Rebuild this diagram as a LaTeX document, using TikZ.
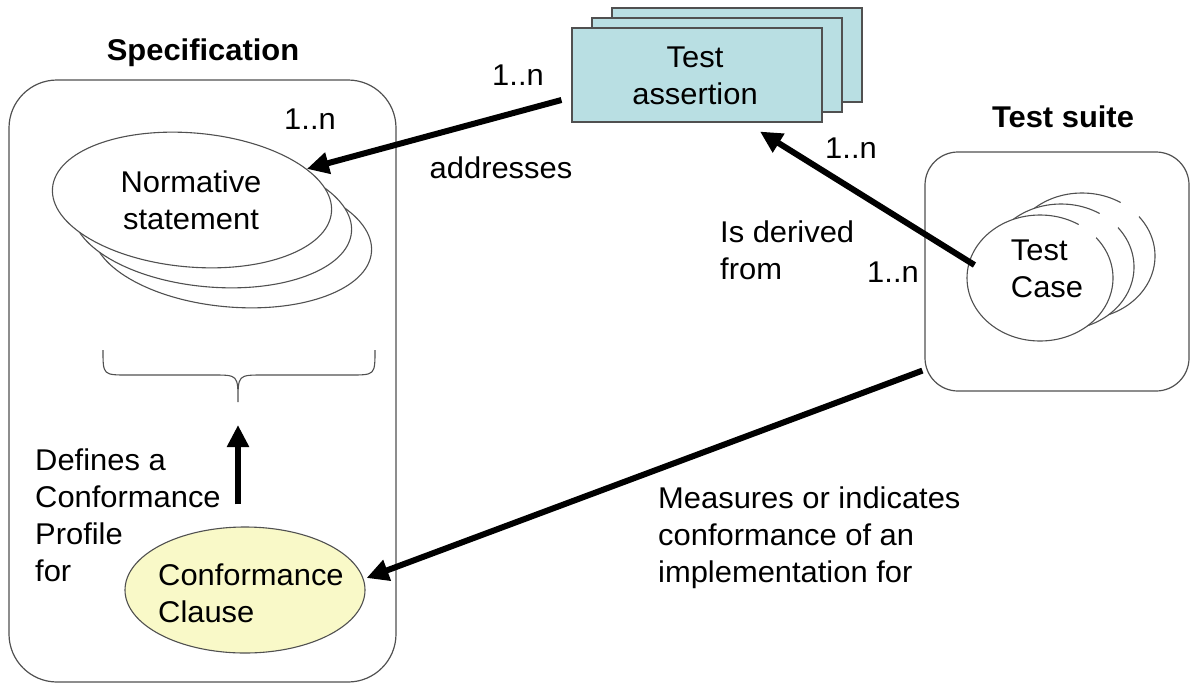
\documentclass[tikz,border=0pt]{standalone}
\usepackage{fontspec}
\setmainfont{Liberation Sans}[FakeStretch=1.03]
\usetikzlibrary{shapes.geometric,arrows.meta}
\definecolor{tacyan}{HTML}{B9DFE3}
\definecolor{ccyellow}{HTML}{F9F9C8}
\definecolor{edge}{HTML}{505050}
\begin{document}
\begin{tikzpicture}[x=1pt,y=-1pt,
  font=\fontsize{30}{37}\selectfont,
  txt/.style={inner sep=0pt,align=left},
  txtc/.style={inner sep=0pt,align=center},
  head/.style={inner sep=0pt,font=\fontsize{30}{37}\selectfont\bfseries},
  container/.style={draw=edge,line width=1.2pt,rounded corners=#1},
  nsell/.style={ellipse,draw=edge,line width=1.1pt,fill=white,minimum width=280pt,minimum height=134pt,inner sep=0pt,rotate=-5},
  tcell/.style={ellipse,draw=edge,line width=1.1pt,fill=white,minimum width=146pt,minimum height=126pt,inner sep=0pt},
  tabox/.style={rectangle,draw=edge,line width=1.1pt,fill=tacyan,minimum width=250pt,minimum height=94pt,inner sep=0pt},
  arr/.style={line width=6pt,-{Triangle[length=22pt,width=21pt]}},
  gap/.style={draw=white,line width=4pt},
  bracepath/.style={draw=edge,line width=1.1pt}
]
\useasboundingbox (0,0) rectangle (1190,683);

% containers
\node[head] (spechead) at (203,53) {Specification};
\node[head] (tshead) at (1063,117) {Test suite};
\draw[container=48] (9,80) rectangle (396,682);
\node[inner sep=0pt,minimum width=264pt,minimum height=239pt,draw=edge,line width=1.2pt,rounded corners=33pt] (ts) at (1057,271.5) {};

% normative statements
\node[nsell] (ns3) at (232,240) {};
\node[nsell] (ns2) at (212,220) {};
\node[nsell] (ns1) at (192,200) {};
\node[txtc] (nstext) at (191,200) {Normative\\statement};
\node[txt] (ns1n) at (310,119) {1..n};

% test assertions
\node[tabox] (ta3) at (737,55) {};
\node[tabox] (ta2) at (717,65) {};
\node[tabox] (ta1) at (697,75) {};
\node[txtc] (tatext) at (695,76) {Test\\assertion};

% test cases
\node[tcell] (tc3) at (1082,256) {};
\node[tcell] (tc2) at (1061,267) {};
\node[tcell] (tc1) at (1040,278) {};
\draw[gap] (tc3.35) -- (tc3.54);
\draw[gap] (tc2.35) -- (tc2.54);
\draw[gap] (tc1.36) -- (tc1.54);
\node[txt] (tctext) at (1047,269) {Test\\Case};

% conformance clause
\node[ellipse,draw=edge,line width=1.1pt,fill=ccyellow,minimum width=240pt,minimum height=126pt,inner sep=0pt] (cc) at (245,590) {};
\node[txt,anchor=west] (cctext) at (158,593) {Conformance\\Clause};

% brace
\coordinate (bracetip) at (238,402);
\draw[bracepath] (103,350) .. controls (103,375) .. (128,375) -- (213,375)
  .. controls (238,375) .. (bracetip) .. controls (238,375) .. (263,375)
  -- (350,375) .. controls (375,375) .. (375,350);

% labels
\node[txt] (l1n) at (518,75) {1..n};
\node[txt] (laddr) at (501,168) {addresses};
\node[txt] (l1n2) at (851,148) {1..n};
\node[txt,anchor=west] (lderived) at (720,250) {Is derived\\from};
\node[txt] (l1n3) at (893,272) {1..n};
\node[txt,anchor=west] (ldefines) at (35,515) {Defines a\\Conformance\\Profile\\for};
\node[txt,anchor=west] (lmeasures) at (658,538) {Measures or indicates\\conformance of an\\implementation for};

% connectors
\draw[arr] ([shift={(-10,25)}]ta1.west) -- (ns1);
\draw[arr] ([shift={(8,-13)}]tc1.west) -- ([shift={(63,9)}]ta1.south);
\draw[arr] ([shift={(-2,-21)}]ts.south west) -- ([shift={(1,-12)}]cc.east);
\draw[arr] ([shift={(-7,-22)}]cc.north) -- ([yshift=-23pt]bracetip);
\end{tikzpicture}
\end{document}
